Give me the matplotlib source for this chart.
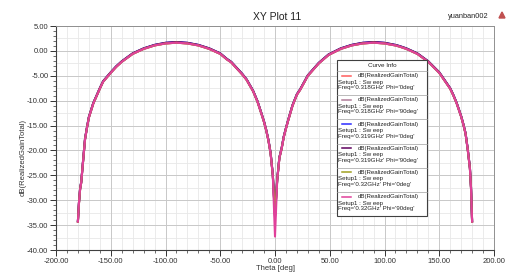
import matplotlib
matplotlib.use("Agg")
import matplotlib.pyplot as plt
import numpy as np
from matplotlib.patches import Rectangle, Polygon
from matplotlib.lines import Line2D
from matplotlib.ticker import MultipleLocator, FormatStrFormatter

plt.rcParams["font.family"] = ["Liberation Sans", "DejaVu Sans"]

# theta samples [deg] and realized gain [dB]
THETA = [-180, -179, -178, -177, -175, -173.5, -172, -170, -166, -160, -157,
         -150, -145, -140, -130, -120, -110, -100, -90, -80, -70, -60, -50,
         -44, -40, -30, -26, -20, -16, -12, -10, -8, -6, -4, -2, 0,
         2, 4, 6, 8, 10, 12, 16, 20, 23, 30, 40, 49, 60, 70, 80, 90, 100,
         110, 114, 120, 130, 140, 150, 160, 163, 166, 170, 172, 174, 176,
         178, 179, 180]
GAIN_MAIN = [-34.3, -30.5, -27.8, -26.5, -21.5, -17.8, -15.8, -13.4, -10.6,
             -7.6, -6.2, -4.4, -3.2, -2.2, -0.6, 0.4, 1.1, 1.5, 1.65, 1.5,
             1.1, 0.4, -0.6, -1.7, -2.3, -4.7, -5.8, -8.1, -10.2, -12.9,
             -14.3, -16.0, -18.0, -20.6, -25.0, -33.0,
             -26.0, -21.5, -19.7, -17.3, -15.6, -14.0, -11.0, -8.8, -7.8,
             -5.0, -2.5, -0.8, 0.4, 1.1, 1.5, 1.65, 1.5, 1.1, 0.85, 0.4,
             -0.6, -2.2, -4.4, -7.6, -9.0, -10.6, -13.2, -14.8, -16.6, -19.8,
             -23.6, -27.5, -34.3]
GAIN_319 = [-34.2, -30.4, -27.7, -26.4, -21.4, -17.7, -15.7, -13.3, -10.5,
            -7.5, -6.1, -4.3, -3.1, -2.1, -0.5, 0.5, 1.2, 1.62, 1.78, 1.62,
            1.2, 0.5, -0.5, -1.6, -2.2, -4.6, -5.7, -8.0, -10.1, -12.8,
            -14.2, -15.9, -17.9, -20.5, -24.9, -32.8,
            -25.9, -21.4, -19.6, -17.2, -15.5, -13.9, -10.9, -8.7, -7.7,
            -4.9, -2.4, -0.7, 0.5, 1.2, 1.62, 1.78, 1.62, 1.2, 0.95, 0.5,
            -0.5, -2.1, -4.3, -7.5, -8.9, -10.5, -13.1, -14.7, -16.5, -19.7,
            -23.5, -27.4, -34.2]
NULL_DB = [-33.0, -33.2, -32.8, -33.4, -33.0, -37.3]  # value at theta = 0

FREQS = ["0.318GHz", "0.318GHz", "0.319GHz", "0.319GHz", "0.32GHz", "0.32GHz"]
PHIS = ["0deg", "90deg", "0deg", "90deg", "0deg", "90deg"]
COLORS = ["#ff5c5c", "#b07c98", "#2b2bff", "#5e005e", "#a0a020", "#e0409a"]

W, H = 513, 280
fig = plt.figure(figsize=(W / 100, H / 100), dpi=100)
ax = fig.add_axes([56 / W, 1 - 250 / H, 438 / W, 224 / H])

i0 = THETA.index(0)
for k in range(6):
    g = list(GAIN_319 if FREQS[k] == "0.319GHz" else GAIN_MAIN)
    g[i0] = NULL_DB[k]
    ax.plot(THETA, g, color=COLORS[k], lw=1.5, solid_joinstyle="round")

ax.set_xlim(-200, 200)
ax.set_ylim(-40, 5)
ax.xaxis.set_major_locator(MultipleLocator(50))
ax.xaxis.set_minor_locator(MultipleLocator(10))
ax.yaxis.set_major_locator(MultipleLocator(5))
ax.yaxis.set_minor_locator(MultipleLocator(1))
ax.xaxis.set_major_formatter(FormatStrFormatter("%.2f"))
ax.yaxis.set_major_formatter(FormatStrFormatter("%.2f"))
ax.grid(True, which="major", color="#c8c8c8", lw=0.7)
ax.grid(True, which="minor", axis="x", color="#e8e8e8", lw=0.6)
for yv in np.arange(-37.5, 5, 5):
    ax.axhline(yv, color="#e8e8e8", lw=0.6, zorder=0)
ax.set_axisbelow(True)
ax.tick_params(which="major", direction="out", length=4, width=0.7,
               labelsize=5.5, colors="#333333", pad=1.5)
ax.tick_params(which="minor", direction="out", length=2, width=0.5,
               colors="#333333")
for s in ("left", "bottom"):
    ax.spines[s].set_color("#404040")
    ax.spines[s].set_linewidth(0.8)
for s in ("top", "right"):
    ax.spines[s].set_color("#909090")
    ax.spines[s].set_linewidth(0.7)

ax.set_xlabel("Theta [deg]", fontsize=5.5, color="#333333", labelpad=0)
fig.text(23 / W, 1 - 157 / H, "dB(RealizedGainTotal)", rotation=90,
         fontsize=5.5, color="#333333", ha="center", va="center")

fig.text(277 / W, 1 - 17 / H, "XY Plot 11", fontsize=7.5, color="#222222",
         ha="center", va="center")
fig.text(468 / W, 1 - 17 / H, "yuanban002", fontsize=5.3, color="#222222",
         ha="center", va="center")
fig.patches.append(Polygon([[(499) / W, 1 - 18 / H], [(505) / W, 1 - 18 / H],
                            [(502) / W, 1 - 12 / H]], closed=True,
                           transform=fig.transFigure, color="#c05050"))

# Curve Info box
def px(x, y):
    return x / W, 1 - y / H

L, R, T, B = 337, 427, 60, 216
fig.patches.append(Rectangle(px(L, B), (R - L) / W, (B - T) / H,
                             transform=fig.transFigure, facecolor="white",
                             edgecolor="#404040", lw=0.8, zorder=5))
fig.text(*px((L + R) / 2, 65.5), "Curve Info", fontsize=4.5, color="#222222",
         ha="center", va="center", zorder=6)
fig.lines.append(Line2D([L / W, R / W], [1 - 71 / H, 1 - 71 / H],
                        transform=fig.transFigure, color="#a0a0a0", lw=0.5,
                        zorder=6))
step = (B - 71) / 6
for k in range(6):
    top = 71 + k * step
    if k > 0:
        fig.lines.append(Line2D([L / W, R / W], [1 - top / H, 1 - top / H],
                                transform=fig.transFigure, color="#a0a0a0",
                                lw=0.5, zorder=6))
    y1 = top + 4.8
    fig.lines.append(Line2D([341.5 / W, 350.5 / W], [1 - y1 / H, 1 - y1 / H],
                            transform=fig.transFigure, color=COLORS[k],
                            lw=1.1, zorder=6))
    fig.text(*px(358, y1), "dB(RealizedGainTotal)", fontsize=4.4,
             color="#222222", ha="left", va="center", zorder=6)
    fig.text(*px(338.5, top + 11.3), "Setup1 : Sw eep", fontsize=4.4,
             color="#222222", ha="left", va="center", zorder=6)
    fig.text(*px(338.5, top + 16.8), f"Freq='{FREQS[k]}' Phi='{PHIS[k]}'",
             fontsize=4.4, color="#222222", ha="left", va="center", zorder=6)

fig.savefig("out.png", dpi=100)
